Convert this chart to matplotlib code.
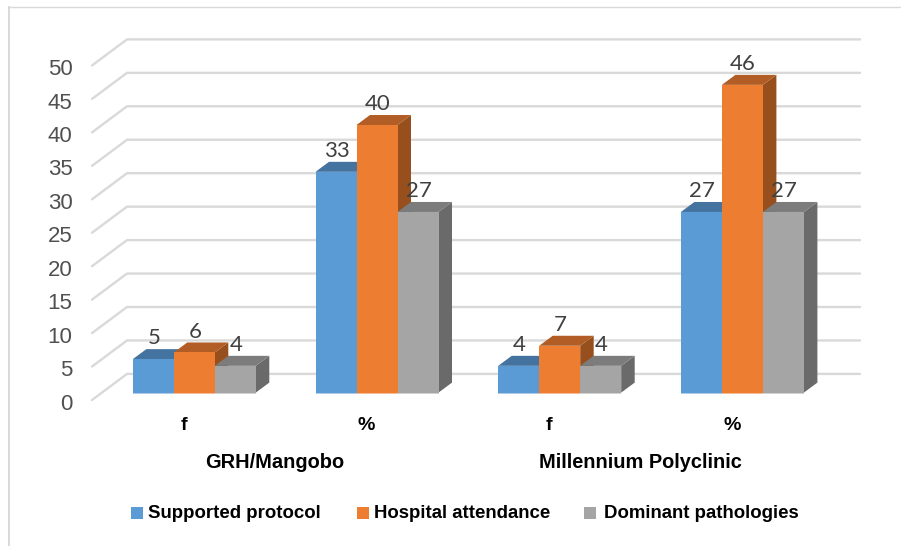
import matplotlib
matplotlib.use("Agg")
import matplotlib.pyplot as plt
from matplotlib.patches import Polygon, Rectangle

groups = ["GRH/Mangobo", "Millennium Polyclinic"]
categories = ["f", "%", "f", "%"]
series_names = ["Supported protocol", "Hospital attendance", "Dominant pathologies"]
supported = [5, 33, 4, 27]
attendance = [6, 40, 7, 46]
pathologies = [4, 27, 4, 27]
yticks = [0, 5, 10, 15, 20, 25, 30, 35, 40, 45, 50]

front_cols = ["#5B9BD5", "#ED7D31", "#A5A5A5"]
top_cols = ["#44739F", "#B15D25", "#7C7C7C"]
side_cols = ["#3E6A93", "#97501D", "#6A6A6A"]

W, H = 901, 546
fig = plt.figure(figsize=(W / 100, H / 100), dpi=100)
ax = fig.add_axes([0, 0, 1, 1])
ax.axis("off")

# axes scaled so that one category is 182.7 px and one unit is 6.69 px
px_x, px_y = 182.7, 6.69
x_org, y_org = 194.3, 392.6
ax.set_xlim(-x_org / px_x, (W - x_org) / px_x)
ax.set_ylim(-(H - y_org) / px_y, y_org / px_y)


def fx(px):
    return (px - x_org) / px_x


def fy(px):
    return (y_org - px) / px_y


bar_w = 41 / px_x
bar_dx, bar_dy = 13.5 / px_x, 10 / px_y
wall_l, wall_b = fx(92), -7.4 / px_y
wall_x, wall_y = fx(127), 18.7 / px_y
wall_r = fx(860)

# frame of the picture
ax.plot([fx(8.5), fx(W)], [fy(6.5)] * 2, color="#D9D9D9", lw=1.0)
ax.plot([fx(8.5)] * 2, [fy(H), fy(6.5)], color="#D9D9D9", lw=1.4)

# back wall gridlines with the slanted part on the left
for v in yticks:
    ax.plot([wall_l, wall_x, wall_r], [v + wall_b, v + wall_y, v + wall_y],
            color="#D9D9D9", lw=1.7, solid_capstyle="round", zorder=1)
    ax.text(fx(72.5), v - 11.5 / px_y, str(v), ha="right", va="center",
            fontsize=16, family="Liberation Sans", color="#505050")

series = [supported, attendance, pathologies]
z = 2
for i, cat in enumerate(categories):
    for j, vals in enumerate(series):
        v = vals[i]
        x0 = i + (j - 1.5) * bar_w
        x1 = x0 + bar_w
        ax.add_patch(Polygon([(x1, 0), (x1 + bar_dx, bar_dy), (x1 + bar_dx, v + bar_dy), (x1, v)],
                             fc=side_cols[j], ec="none", zorder=z))
        ax.add_patch(Polygon([(x0, v), (x0 + bar_dx, v + bar_dy), (x1 + bar_dx, v + bar_dy), (x1, v)],
                             fc=top_cols[j], ec="none", zorder=z))
        ax.add_patch(Rectangle((x0, 0), bar_w, v, fc=front_cols[j], ec="none", zorder=z + 0.1))
        # pale strip along the foot of each bar
        ax.add_patch(Rectangle((x0, -1.6 / px_y), bar_w, 1.6 / px_y, fc=front_cols[j], ec="none",
                               alpha=0.5, zorder=z))
        ax.text(x0 + bar_w / 2 + 0.5 / px_x, v + bar_dy + 0.1, str(v), ha="center", va="bottom",
                fontsize=16, family="Lato", color="#404040", zorder=20)
        z += 0.2
    ax.text(i - 10.5 / px_x, fy(425), cat, ha="center", va="center",
            fontsize=14, family="Liberation Sans", weight="bold", color="black")

for gx, g in zip([275, 640.5], groups):
    ax.text(fx(gx), fy(463), g, ha="center", va="center", fontsize=14.4,
            family="Liberation Sans", weight="bold", color="black")

leg_x = [131, 357, 584]
leg_text_x = [148, 374, 604]
for x, tx, name, c in zip(leg_x, leg_text_x, series_names, front_cols):
    ax.add_patch(Rectangle((fx(x), fy(519)), 12 / px_x, 12 / px_y, fc=c, ec="none"))
    ax.text(fx(tx), fy(513), name, ha="left", va="center",
            fontsize=13.4, family="Liberation Sans", weight="bold", color="black")

fig.savefig("out.png", dpi=100)
